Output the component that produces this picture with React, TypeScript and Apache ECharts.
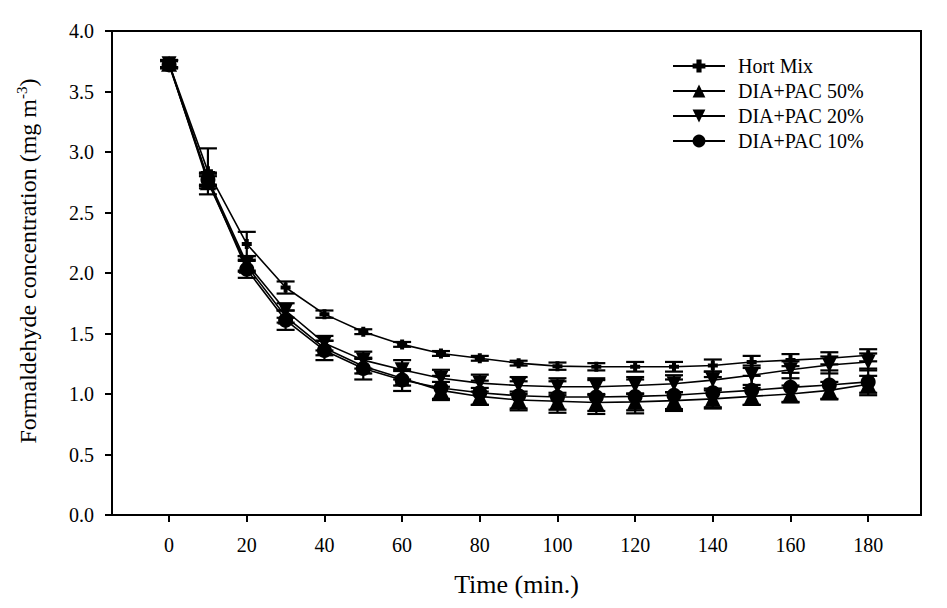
import React, { useEffect, useRef } from "react";
import * as echarts from "echarts";

const times = [0, 10, 20, 30, 40, 50, 60, 70, 80, 90, 100, 110, 120, 130, 140, 150, 160, 170, 180];
const xTickValues = [0, 20, 40, 60, 80, 100, 120, 140, 160, 180];

const hortMix = [3.73, 2.84, 2.24, 1.88, 1.66, 1.515, 1.41, 1.335, 1.295, 1.255, 1.23, 1.225, 1.225, 1.225, 1.235, 1.265, 1.28, 1.295, 1.32];
const hortMixErr = [0.03, 0.19, 0.1, 0.05, 0.03, 0.02, 0.02, 0.02, 0.02, 0.02, 0.03, 0.03, 0.04, 0.04, 0.05, 0.05, 0.05, 0.05, 0.05];

const pac50 = [3.73, 2.75, 2.06, 1.64, 1.38, 1.23, 1.13, 1.03, 0.98, 0.95, 0.94, 0.93, 0.935, 0.945, 0.96, 0.98, 1.0, 1.03, 1.08];
const pac50Err = [0.03, 0.05, 0.05, 0.05, 0.06, 0.06, 0.06, 0.07, 0.07, 0.07, 0.07, 0.07, 0.07, 0.07, 0.07, 0.07, 0.07, 0.07, 0.07];

const pac20 = [3.73, 2.78, 2.08, 1.69, 1.42, 1.28, 1.2, 1.13, 1.09, 1.07, 1.06, 1.06, 1.07, 1.085, 1.115, 1.155, 1.2, 1.24, 1.265];
const pac20Err = [0.03, 0.05, 0.06, 0.06, 0.06, 0.07, 0.08, 0.07, 0.07, 0.07, 0.07, 0.07, 0.07, 0.07, 0.07, 0.08, 0.07, 0.07, 0.07];

const pac10 = [3.72, 2.77, 2.03, 1.61, 1.36, 1.21, 1.115, 1.05, 1.01, 0.985, 0.975, 0.975, 0.98, 0.99, 1.01, 1.03, 1.055, 1.075, 1.1];
const pac10Err = [0.03, 0.05, 0.07, 0.08, 0.08, 0.09, 0.09, 0.1, 0.1, 0.12, 0.13, 0.14, 0.14, 0.13, 0.13, 0.12, 0.12, 0.12, 0.11];

const seriesNames = ["Hort Mix", "DIA+PAC 50%", "DIA+PAC 20%", "DIA+PAC 10%"];

const FONT = "'Liberation Serif', 'Times New Roman', serif";

const plusSymbol =
  "path://M-1,-0.4 L-0.4,-0.4 L-0.4,-1 L0.4,-1 L0.4,-0.4 L1,-0.4 L1,0.4 L0.4,0.4 L0.4,1 L-0.4,1 L-0.4,0.4 L-1,0.4 Z";
const triDown = "path://M-1,-1 L1,-1 L0,1 Z";

function errData(vals: number[], errs: number[]) {
  return times.map((t, i) => [t, vals[i] - errs[i], vals[i] + errs[i]]);
}

function errorSeries(vals: number[], errs: number[]) {
  return {
    type: "custom",
    silent: true,
    z: 3,
    data: errData(vals, errs),
    encode: { x: 0, y: [1, 2] },
    renderItem: (params: any, api: any) => {
      const x = api.value(0);
      const lo = api.value(1);
      const hi = api.value(2);
      const pHi = api.coord([x, hi]);
      const pLo = api.coord([x, lo]);
      const w = 9;
      const style = { stroke: "#000", lineWidth: 2.2 };
      return {
        type: "group",
        children: [
          { type: "line", shape: { x1: pHi[0], y1: pHi[1], x2: pLo[0], y2: pLo[1] }, style },
          { type: "line", shape: { x1: pHi[0] - w, y1: pHi[1], x2: pHi[0] + w, y2: pHi[1] }, style },
          { type: "line", shape: { x1: pLo[0] - w, y1: pLo[1], x2: pLo[0] + w, y2: pLo[1] }, style },
        ],
      };
    },
  };
}

function lineSeries(name: string, vals: number[], symbol: string, size: number) {
  return {
    type: "line",
    name,
    data: times.map((t, i) => [t, vals[i]]),
    symbol,
    symbolSize: size,
    showAllSymbol: true,
    z: 4,
    lineStyle: { color: "#000", width: 1.6 },
    itemStyle: { color: "#000", borderWidth: 0 },
  };
}

export default function App() {
  const ref = useRef<HTMLDivElement>(null);
  useEffect(() => {
    if (!ref.current) return;
    const chart = echarts.init(ref.current, null, { renderer: "svg" });
    chart.setOption({
      animation: false,
      backgroundColor: "#fff",
      textStyle: { fontFamily: FONT, color: "#000" },
      grid: {
        left: 112,
        top: 31,
        right: 26,
        bottom: 93,
        show: true,
        borderColor: "#000",
        borderWidth: 2,
        backgroundColor: "transparent",
      },
      legend: {
        orient: "vertical",
        left: 667,
        top: 51,
        itemWidth: 52,
        itemHeight: 16,
        itemGap: 5,
        data: seriesNames,
        textStyle: { fontFamily: FONT, fontSize: 20, lineHeight: 20, color: "#000", padding: [0, 0, 0, 8] },
      },
      xAxis: {
        type: "value",
        min: -14.7,
        max: 193.6,
        name: "Time (min.)",
        nameLocation: "middle",
        nameGap: 56,
        nameTextStyle: { fontFamily: FONT, fontSize: 26, color: "#000" },
        axisLine: { show: true, onZero: false, lineStyle: { color: "#000", width: 2 } },
        axisTick: { show: true, inside: false, length: 7, customValues: xTickValues, lineStyle: { color: "#000", width: 2 } },
        axisLabel: { customValues: xTickValues, margin: 20, fontFamily: FONT, fontSize: 20, color: "#000" },
        splitLine: { show: false },
      },
      yAxis: {
        type: "value",
        min: 0,
        max: 4,
        interval: 0.5,
        name: "{a|Formaldehyde concentration (mg m}{s|-3}{a|)}",
        nameLocation: "middle",
        nameGap: 70,
        nameRotate: 90,
        nameTextStyle: {
          padding: [0, 0, 0, 24],
          rich: {
            a: { fontFamily: FONT, fontSize: 24, color: "#000", lineHeight: 28 },
            s: { fontFamily: FONT, fontSize: 15, color: "#000", lineHeight: 15, verticalAlign: "top" },
          },
        },
        axisLine: { show: true, onZero: false, lineStyle: { color: "#000", width: 2 } },
        axisTick: { show: true, inside: false, length: 7, lineStyle: { color: "#000", width: 2 } },
        axisLabel: {
          margin: 18,
          fontFamily: FONT,
          fontSize: 20,
          color: "#000",
          formatter: (v: number) => v.toFixed(1),
        },
        splitLine: { show: false },
      },
      series: [
        errorSeries(hortMix, hortMixErr),
        errorSeries(pac50, pac50Err),
        errorSeries(pac20, pac20Err),
        errorSeries(pac10, pac10Err),
        lineSeries(seriesNames[0], hortMix, plusSymbol, 10),
        lineSeries(seriesNames[1], pac50, "triangle", 16),
        lineSeries(seriesNames[2], pac20, triDown, 15),
        lineSeries(seriesNames[3], pac10, "circle", 15),
      ],
    });
    return () => chart.dispose();
  }, []);
  return <div ref={ref} style={{ width: 947, height: 608, margin: -8 }} />;
}
